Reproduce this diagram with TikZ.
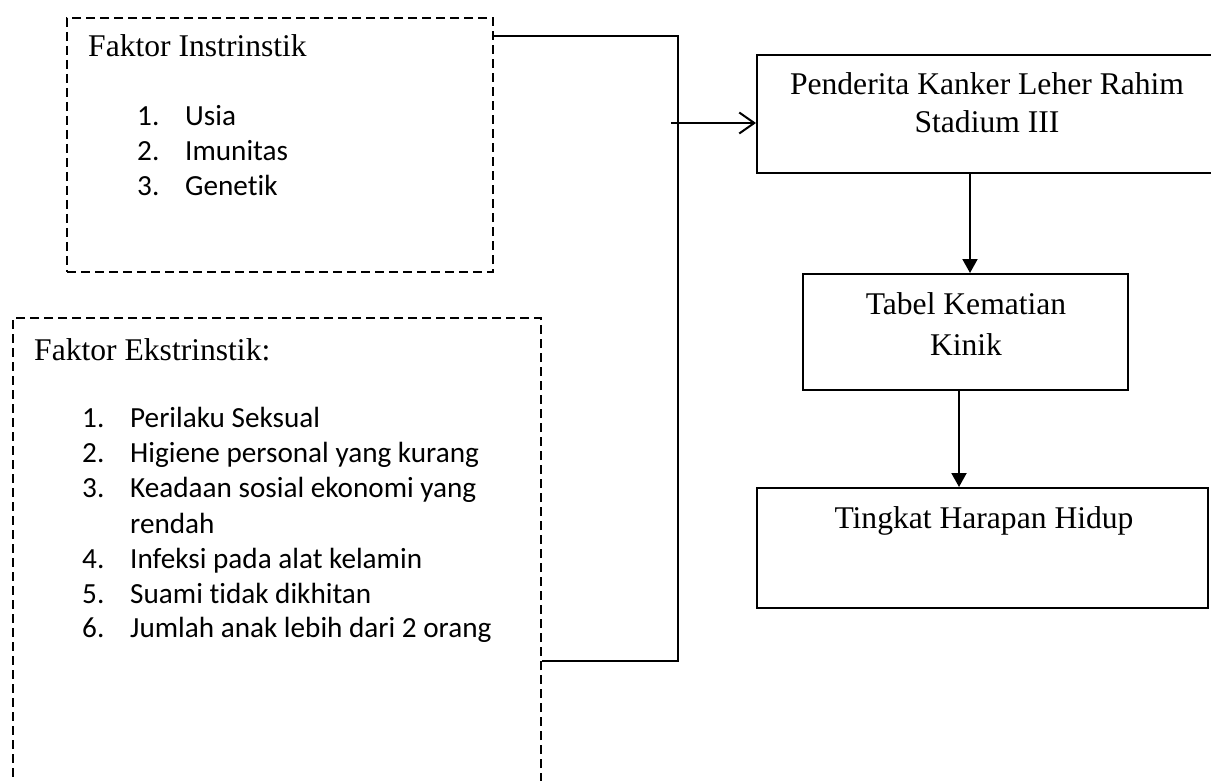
\documentclass[tikz,border=0pt]{standalone}
\usepackage{fontspec}
\setmainfont{Liberation Serif}
\newfontfamily\calibfont[Ligatures={NoCommon,NoRare,NoContextual}]{Carlito}
\usetikzlibrary{arrows.meta}
\begin{document}
\begin{tikzpicture}[x=1pt,y=-1pt,
  dashbox/.style={draw, line width=1.3pt, dash pattern=on 9pt off 5pt, inner sep=0pt},
  solidbox/.style={draw, line width=2pt, inner sep=0pt},
  conn/.style={line width=2pt},
  serif/.style={inner sep=0pt, font=\fontsize{31.6}{38}\selectfont},
  listtxt/.style={inner sep=0pt, anchor=base west, font=\calibfont\fontsize{29.2}{35}\selectfont},
  openarrow/.style={conn, -{Straight Barb[length=15pt, width=21pt, line width=2pt]}},
  fillarrow/.style={conn, -{Triangle[length=14pt, width=15pt]}}]
\useasboundingbox (0,0) rectangle (1211,781);
\fill[white] (0,0) rectangle (1211,781);

% boxes
\node[dashbox, minimum width=426pt, minimum height=254pt] (b1) at (280,145) {};
\node[dashbox, minimum width=528pt, minimum height=482pt] (b2) at (277,559) {};
\node[solidbox, minimum width=458pt, minimum height=118pt] (pend) at (986,114) {};
\node[solidbox, minimum width=325pt, minimum height=116pt] (tab) at (965.5,332) {};
\node[solidbox, minimum width=451pt, minimum height=120pt] (ting) at (982.5,548) {};

% box 1 text
\node[serif, anchor=base west] (t1) at (88,57) {Faktor Instrinstik};
\node[listtxt] (n11) at (137,126) {1.};
\node[listtxt] (i11) at (185,126) {Usia};
\node[listtxt] (n12) at (137,161) {2.};
\node[listtxt] (i12) at (185,161) {Imunitas};
\node[listtxt] (n13) at (137,196) {3.};
\node[listtxt] (i13) at (185,196) {Genetik};

% box 2 text
\node[serif, anchor=base west] (t2) at (34,360) {Faktor Ekstrinstik:};
\node[listtxt] (n21) at (82,427) {1.};
\node[listtxt] (i21) at (130,427) {Perilaku Seksual};
\node[listtxt] (n22) at (82,462) {2.};
\node[listtxt] (i22) at (130,462) {Higiene personal yang kurang};
\node[listtxt] (n23) at (82,497) {3.};
\node[listtxt] (i23) at (130,497) {Keadaan sosial ekonomi yang};
\node[listtxt] (i23b) at (130,533) {rendah};
\node[listtxt] (n24) at (82,568) {4.};
\node[listtxt] (i24) at (130,568) {Infeksi pada alat kelamin};
\node[listtxt] (n25) at (82,603) {5.};
\node[listtxt] (i25) at (130,603) {Suami tidak dikhitan};
\node[listtxt] (n26) at (82,637) {6.};
\node[listtxt] (i26) at (130,637) {Jumlah anak lebih dari 2 orang};

% right boxes text
\node[serif, anchor=base] (p1) at (987,95) {Penderita Kanker Leher Rahim};
\node[serif, anchor=base] (p2) at (987,133) {Stadium III};
\node[serif, anchor=base] (k1) at (966,314) {Tabel Kematian};
\node[serif, anchor=base] (k2) at (966,355) {Kinik};
\node[serif, anchor=base] (h1) at (984,528) {Tingkat Harapan Hidup};

% connectors
\coordinate (jt) at (678,36);
\coordinate (jb) at (678,661);
\coordinate (as) at (671,123);
\coordinate (d1) at (970,0);
\coordinate (d2) at (959,0);
\draw[conn] (b1.east |- jt) -- (jt) -- (jb) -- (b2.east |- jb);
\draw[openarrow] (as) -- (as -| pend.west);
\draw[fillarrow] (pend.south -| d1) -- (tab.north -| d1);
\draw[fillarrow] (tab.south -| d2) -- (ting.north -| d2);
\end{tikzpicture}
\end{document}
